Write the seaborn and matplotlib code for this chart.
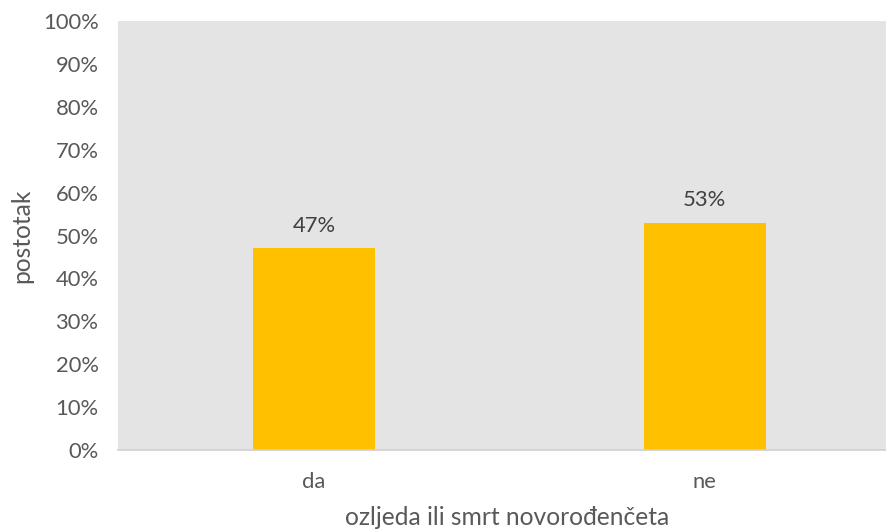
import matplotlib
matplotlib.use("Agg")
import matplotlib.pyplot as plt
import seaborn as sns
import pandas as pd

categories = ["da", "ne"]
values = [47, 53]
value_labels = ["47%", "53%"]
y_ticks = [0, 10, 20, 30, 40, 50, 60, 70, 80, 90, 100]
y_tick_labels = [f"{t}%" for t in y_ticks]

sns.set_theme(style="white")
plt.rcParams["font.family"] = ["Lato", "DejaVu Sans"]

df = pd.DataFrame({"kategorija": categories, "postotak": values})

fig = plt.figure(figsize=(8.87, 5.31), dpi=100)
W, H = 887, 531
ax = fig.add_axes([118 / W, 1 - 450 / H, (887 - 118) / W, (450 - 21) / H])
ax.set_facecolor("#e4e4e4")

sns.barplot(data=df, x="kategorija", y="postotak", color="#ffc000",
            width=0.3125, saturation=1, linewidth=0, ax=ax)

ax.set_xlim(-0.502, 1.467)
ax.set_ylim(0, 100)
ax.set_yticks(y_ticks)
ax.set_yticklabels(y_tick_labels)

for i, (v, lab) in enumerate(zip(values, value_labels)):
    ax.annotate(lab, (i, v), xytext=(0, 9), textcoords="offset points",
                ha="center", va="bottom", fontsize=15.8, color="#404040")

for s in ["top", "right", "left"]:
    ax.spines[s].set_visible(False)
ax.spines["bottom"].set_color("#d0d0d0")
ax.spines["bottom"].set_linewidth(1.2)

ax.tick_params(axis="both", length=0, labelsize=15.8, labelcolor="#595959")
ax.tick_params(axis="y", pad=14)
ax.tick_params(axis="x", pad=16)

ax.set_xlabel("ozljeda ili smrt novorođenčeta", fontsize=17.7, color="#595959")
ax.xaxis.set_label_coords((507 - 118) / 769, -(506 - 450) / 429)
ax.set_ylabel("postotak", fontsize=17.7, color="#595959")
ax.yaxis.set_label_coords(-(118 - 33) / 769, 0.5)

fig.savefig("out.png", dpi=100, facecolor="white")
